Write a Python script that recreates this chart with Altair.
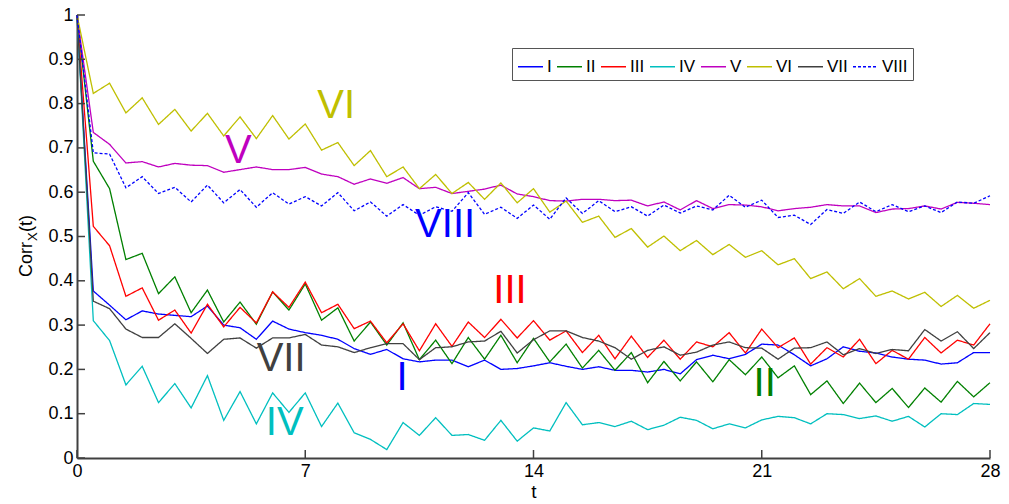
import altair as alt
import pandas as pd

# ---------------- data ----------------
t = [k / 2 for k in range(57)]
series_names = ["I", "II", "III", "IV", "V", "VI", "VII", "VIII"]
colors = ["#0000ff", "#008000", "#ff0000", "#00bfbf", "#bf00bf", "#bfbf00", "#404040", "#0000ff"]
dashes = [[1, 0], [1, 0], [1, 0], [1, 0], [1, 0], [1, 0], [1, 0], [3, 2]]

s_I = [1.0, 0.377, 0.345, 0.312, 0.332, 0.325, 0.322, 0.319, 0.343, 0.300,
       0.294, 0.268, 0.309, 0.291, 0.283, 0.277, 0.268, 0.247, 0.234, 0.245,
       0.224, 0.217, 0.221, 0.221, 0.206, 0.221, 0.200, 0.202, 0.208, 0.215,
       0.207, 0.200, 0.206, 0.198, 0.198, 0.194, 0.200, 0.190, 0.222, 0.232,
       0.224, 0.234, 0.257, 0.255, 0.233, 0.208, 0.224, 0.251, 0.241, 0.237,
       0.228, 0.223, 0.221, 0.212, 0.215, 0.238, 0.238]
s_II = [1.0, 0.670, 0.608, 0.448, 0.462, 0.371, 0.409, 0.328, 0.379, 0.307,
        0.352, 0.302, 0.375, 0.334, 0.393, 0.311, 0.339, 0.264, 0.307, 0.255,
        0.305, 0.222, 0.266, 0.213, 0.272, 0.223, 0.277, 0.215, 0.270, 0.217,
        0.257, 0.203, 0.243, 0.198, 0.238, 0.170, 0.218, 0.174, 0.217, 0.172,
        0.222, 0.188, 0.228, 0.181, 0.208, 0.143, 0.174, 0.123, 0.169, 0.125,
        0.157, 0.114, 0.158, 0.126, 0.173, 0.138, 0.170]
s_III = [1.0, 0.523, 0.479, 0.365, 0.384, 0.311, 0.334, 0.282, 0.347, 0.296,
         0.340, 0.305, 0.375, 0.340, 0.397, 0.328, 0.347, 0.292, 0.309, 0.260,
         0.303, 0.242, 0.303, 0.252, 0.307, 0.272, 0.313, 0.271, 0.310, 0.266,
         0.287, 0.238, 0.277, 0.224, 0.275, 0.227, 0.266, 0.223, 0.262, 0.251,
         0.283, 0.237, 0.291, 0.249, 0.271, 0.212, 0.249, 0.228, 0.268, 0.213,
         0.243, 0.223, 0.272, 0.237, 0.266, 0.255, 0.303]
s_IV = [1.0, 0.310, 0.265, 0.165, 0.207, 0.125, 0.168, 0.113, 0.186, 0.085,
        0.150, 0.077, 0.147, 0.103, 0.147, 0.071, 0.124, 0.057, 0.042, 0.019,
        0.080, 0.051, 0.091, 0.051, 0.053, 0.040, 0.085, 0.038, 0.068, 0.061,
        0.125, 0.075, 0.080, 0.071, 0.083, 0.064, 0.074, 0.092, 0.085, 0.066,
        0.077, 0.068, 0.086, 0.094, 0.091, 0.077, 0.100, 0.098, 0.089, 0.095,
        0.083, 0.094, 0.070, 0.100, 0.098, 0.123, 0.121]
s_V = [1.0, 0.735, 0.708, 0.666, 0.669, 0.657, 0.665, 0.661, 0.660, 0.645,
       0.651, 0.657, 0.651, 0.651, 0.656, 0.641, 0.635, 0.618, 0.630, 0.620,
       0.633, 0.608, 0.611, 0.597, 0.602, 0.607, 0.616, 0.596, 0.590, 0.581,
       0.580, 0.584, 0.584, 0.581, 0.582, 0.569, 0.578, 0.560, 0.581, 0.563,
       0.572, 0.571, 0.567, 0.558, 0.563, 0.566, 0.572, 0.569, 0.569, 0.554,
       0.562, 0.563, 0.569, 0.562, 0.577, 0.575, 0.572]
s_VI = [1.0, 0.823, 0.846, 0.779, 0.813, 0.753, 0.787, 0.738, 0.778, 0.727,
        0.770, 0.721, 0.773, 0.720, 0.754, 0.695, 0.712, 0.660, 0.694, 0.635,
        0.657, 0.608, 0.640, 0.597, 0.622, 0.584, 0.621, 0.576, 0.608, 0.555,
        0.580, 0.532, 0.546, 0.498, 0.518, 0.476, 0.501, 0.468, 0.491, 0.459,
        0.482, 0.453, 0.468, 0.436, 0.450, 0.405, 0.420, 0.382, 0.405, 0.365,
        0.377, 0.359, 0.374, 0.342, 0.367, 0.338, 0.356]
s_VII = [1.0, 0.354, 0.337, 0.291, 0.272, 0.272, 0.303, 0.270, 0.236, 0.268,
         0.271, 0.248, 0.271, 0.271, 0.279, 0.255, 0.251, 0.238, 0.249, 0.258,
         0.258, 0.222, 0.249, 0.251, 0.262, 0.264, 0.286, 0.237, 0.267, 0.287,
         0.287, 0.272, 0.264, 0.249, 0.223, 0.243, 0.251, 0.232, 0.239, 0.255,
         0.262, 0.249, 0.248, 0.223, 0.248, 0.249, 0.262, 0.233, 0.247, 0.236,
         0.245, 0.242, 0.290, 0.264, 0.285, 0.247, 0.283]
s_VIII = [1.0, 0.689, 0.686, 0.610, 0.635, 0.597, 0.611, 0.578, 0.616, 0.576,
          0.606, 0.566, 0.599, 0.573, 0.590, 0.569, 0.599, 0.558, 0.578, 0.546,
          0.572, 0.548, 0.567, 0.557, 0.599, 0.550, 0.566, 0.541, 0.571, 0.539,
          0.587, 0.552, 0.581, 0.556, 0.567, 0.546, 0.571, 0.553, 0.569, 0.560,
          0.593, 0.566, 0.582, 0.543, 0.548, 0.527, 0.561, 0.552, 0.578, 0.556,
          0.572, 0.556, 0.569, 0.554, 0.578, 0.575, 0.592]

all_series = [s_I, s_II, s_III, s_IV, s_V, s_VI, s_VII, s_VIII]

# in-plot labels (text, t, value, colour)
label_text = ["VI", "V", "VIII", "III", "VII", "I", "II", "IV"]
label_t = [7.95, 4.95, 11.29, 13.28, 6.26, 9.97, 21.09, 6.37]
label_v = [0.794, 0.693, 0.526, 0.378, 0.223, 0.180, 0.167, 0.078]
label_col = ["#bfbf00", "#bf00bf", "#0000ff", "#ff0000", "#404040", "#0000ff", "#008000", "#00bfbf"]

x_ticks = [0, 7, 14, 21, 28]
y_ticks = [0, 0.1, 0.2, 0.3, 0.4, 0.5, 0.6, 0.7, 0.8, 0.9, 1.0]

# ---------------- build tables ----------------
rows = []
for name, vals in zip(series_names, all_series):
    for tt, vv in zip(t, vals):
        rows.append({"series": name, "t": tt, "v": vv})
df = pd.DataFrame(rows)
labels_df = pd.DataFrame({"label": label_text, "t": label_t, "v": label_v, "col": label_col})
xt_df = pd.DataFrame({"t": x_ticks})
yt_df = pd.DataFrame({"v": y_ticks})
ytitle_df = pd.DataFrame({"txt": ["Corr"]})

W, H = 913, 443
FONT = "Liberation Sans"

xscale = alt.Scale(domain=[0, 28], nice=False, zero=False)
yscale = alt.Scale(domain=[0, 1], nice=False)

legend = alt.Legend(
    title=None, orient="none", legendX=435, legendY=33, direction="horizontal",
    columns=8, symbolType="stroke", symbolSize=625, symbolStrokeWidth=1.5,
    labelFont=FONT, labelFontSize=17, labelColor="black", labelOffset=3,
    columnPadding=2, padding=5, strokeColor="#555555", fillColor="white",
)

lines = alt.Chart(df).mark_line(strokeWidth=1.3).encode(
    x=alt.X("t:Q", scale=xscale,
            axis=alt.Axis(values=x_ticks, title="t", format="d")),
    y=alt.Y("v:Q", scale=yscale,
            axis=alt.Axis(values=y_ticks, title=None, format=".1~f")),
    color=alt.Color("series:N", scale=alt.Scale(domain=series_names, range=colors), legend=legend),
    strokeDash=alt.StrokeDash("series:N", scale=alt.Scale(domain=series_names, range=dashes), legend=legend),
    order=alt.Order("t:Q"),
)

texts = alt.Chart(labels_df).mark_text(font=FONT, fontSize=40).encode(
    x=alt.X("t:Q", scale=xscale),
    y=alt.Y("v:Q", scale=yscale),
    text="label:N",
    fill=alt.Fill("col:N", scale=None),
)

ytick_rules = alt.Chart(yt_df).mark_rule(color="#404040", strokeWidth=1.5).encode(
    y=alt.Y("v:Q", scale=yscale),
    x=alt.value(0), x2=alt.value(8),
)
xtick_rules = alt.Chart(xt_df).mark_rule(color="#404040", strokeWidth=1.5).encode(
    x=alt.X("t:Q", scale=xscale),
    y=alt.value(H), y2=alt.value(H - 8),
)

yt_corr = alt.Chart(ytitle_df).mark_text(font=FONT, fontSize=18, angle=270, align="left",
                                          baseline="alphabetic", color="black").encode(
    x=alt.value(-45), y=alt.value(262), text=alt.value("Corr"))
yt_sub = alt.Chart(ytitle_df).mark_text(font=FONT, fontSize=13, angle=270, align="left",
                                         baseline="alphabetic", color="black").encode(
    x=alt.value(-40), y=alt.value(226), text=alt.value("X"))
yt_t = alt.Chart(ytitle_df).mark_text(font=FONT, fontSize=18, angle=270, align="left",
                                       baseline="alphabetic", color="black").encode(
    x=alt.value(-45), y=alt.value(217), text=alt.value("(t)"))

chart = alt.layer(lines, texts, ytick_rules, xtick_rules, yt_corr, yt_sub, yt_t).properties(
    width=W, height=H,
    padding={"left": 77, "top": 15, "right": 19, "bottom": 46},
    autosize=alt.AutoSizeParams(type="none"),
    background="white",
).configure_view(strokeWidth=0).configure_axis(
    grid=False, ticks=False, domainColor="#404040", domainWidth=2,
    labelFont=FONT, labelFontSize=18, labelColor="black", labelPadding=4,
    labelFlush=False, labelOverlap=False,
    titleFont=FONT, titleFontSize=19, titleFontWeight="normal", titleColor="black",
    titlePadding=2,
)

chart.save("out.html", embed_options={"renderer": "svg", "actions": False})
